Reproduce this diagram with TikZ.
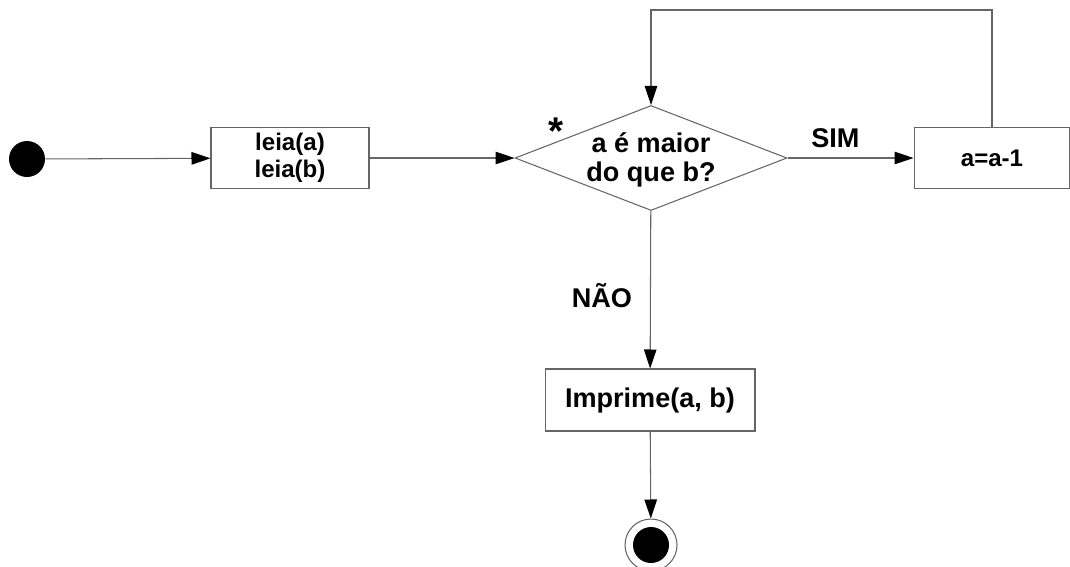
\documentclass[tikz,border=0pt]{standalone}
\usepackage{fontspec}
\setmainfont{Liberation Sans}
\usetikzlibrary{positioning, shapes.geometric, arrows.meta}

\begin{document}
\begin{tikzpicture}[
                x=0.02cm, y=-0.02cm,
                box/.style={rectangle,draw=black!60,line width=0.6pt,fill=white,inner sep=0pt},
                decision/.style={diamond,draw=black!60,line width=0.6pt,minimum width=5.44cm,minimum height=2.1cm,inner sep=0pt},
                flow/.style={draw=black!60,line width=0.6pt,-{Triangle[length=0.38cm,width=0.25cm,color=black]}},
                big/.style={font=\fontsize{15.4}{16.5}\selectfont\bfseries},
                small/.style={font=\fontsize{13.7}{15.4}\selectfont\bfseries},
            ]
            \useasboundingbox (0,0) rectangle (1070,566);

            % Define nodes
            \node[circle,fill=black,minimum size=0.72cm,inner sep=0pt] (S) at (27,159) {};
            \node[box,small,align=center,minimum width=3.16cm,minimum height=1.22cm] (L) at (290,158) {leia(a)\\leia(b)};
            \node[decision] (D) at (651,158) {};
            \node[big,align=center] (Dt) at (651,160) {a é maior\\do que b?};
            \node[font=\fontsize{22}{24}\selectfont\bfseries] (star) at (556,131) {*};
            \node[box,small,minimum width=3.12cm,minimum height=1.22cm] (A) at (992,158) {a=a-1};
            \node[box,big,minimum width=4.2cm,minimum height=1.24cm] (P) at (650,400) {Imprime(a, b)};
            \node[circle,draw=black!60,line width=0.6pt,fill=white,minimum size=1.04cm,inner sep=0pt] (E) at (651,545) {};
            \node[circle,fill=black,minimum size=0.72cm,inner sep=0pt] (Ei) at (E) {};
            \coordinate (turn) at (992,10);

            % Draw connections
            \draw[flow] (S) -- (L);
            \draw[flow] (L) -- (D);
            \draw[flow] (D) -- (A) node[pos=0.38,above=0.2cm,big,inner sep=0pt] {SIM};
            \draw[flow] (A.north) -- (turn) -| (D.north);
            \draw[flow] (D) -- (P) node[pos=0.54,left=0.36cm,big,inner sep=0pt] {NÃO};
            \draw[flow] (P) -- (E);

            \end{tikzpicture}
\end{document}
